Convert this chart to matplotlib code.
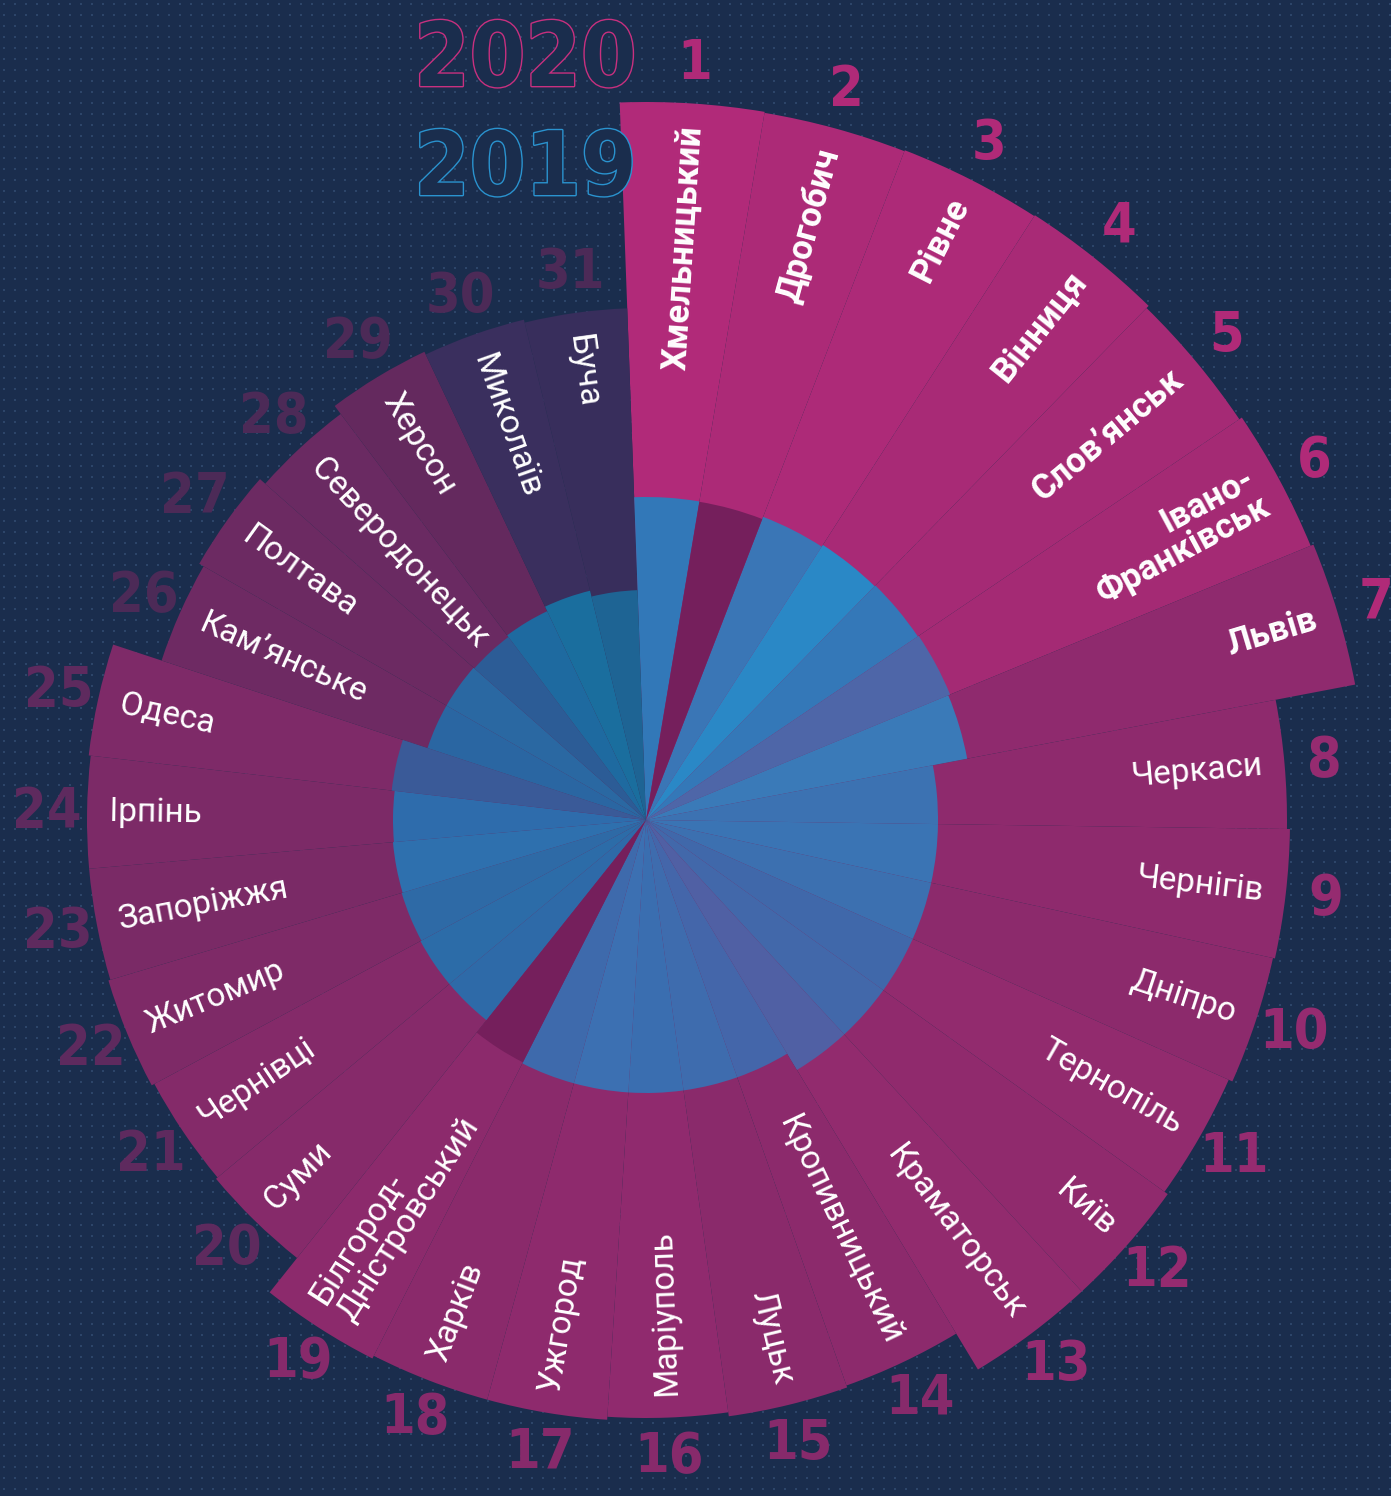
import numpy as np
import matplotlib
matplotlib.use("Agg")
import matplotlib.pyplot as plt
from matplotlib import patheffects as pe
from matplotlib import font_manager as fm

# ---------------- data ----------------
ranks = list(range(1, 32))
cities = ["Хмельницький", "Дрогобич", "Рівне", "Вінниця", "Слов’янськ", "Івано-\nФранківськ", "Львів",
          "Черкаси", "Чернігів", "Дніпро", "Тернопіль", "Київ", "Краматорськ",
          "Кропивницький", "Луцьк", "Маріуполь", "Ужгород", "Харків", "Білгород-\nДністровський",
          "Суми", "Чернівці", "Житомир", "Запоріжжя", "Ірпінь", "Одеса",
          "Кам’янське", "Полтава", "Северодонецьк", "Херсон", "Миколаїв", "Буча"]

# outer bars (2020), radial length in chart units
score_2020 = [718, 717, 718, 719, 716, 719, 722,
              641, 644, 642, 638, 642, 642,
              600, 602, 598, 601, 601, 604,
              560, 558, 561, 559, 559, 561,
              510, 515, 508, 518, 515, 512]
# inner bars (2019); None = city not in 2019 rating
score_2019 = [323, None, 325, 327, 328, 329, 327,
              292, 292, 292, 292, 292, 292,
              273, 273, 273, 273, 273, None,
              256, 256, 255, 254, 253, 256,
              230, 230, 229, 231, 236, 230]
year_labels = ["2020", "2019"]

# ---------------- style ----------------
W, H = 1391, 1496
CX, CY = 646, 820
BG = "#1a2d4d"
DOT = "#2d4569"
MAG = "#c8307f"
BLUE_Y = "#2a93cf"

col_2020 = ["#b12a79", "#ac2a77", "#ad2a78", "#a82a76", "#a52a75", "#a42a74", "#8f2a6e",
            "#8e2a6d", "#8e2a6d", "#8c2a6c", "#922b6e", "#902a6d", "#922b6e",
            "#8c2a6c", "#8a2a6b", "#902a6e", "#8e2a6d", "#8a2a6b", "#8c2a6c",
            "#862a6a", "#842a69", "#7e2a67", "#7a2a66", "#7c2a67", "#7e2a68",
            "#6e2a63", "#6c2a62", "#6a2a62", "#64295e", "#3a2f5e", "#382e5c"]
col_2019 = ["#3278b8", None, "#3a76b6", "#2a88c6", "#3478b8", "#4e66a8", "#3a7ab8",
            "#3c72b2", "#3a74b4", "#3c70b0", "#4068aa", "#4268aa", "#5060a4",
            "#4466aa", "#3e6cae", "#3a6eb0", "#3c70b2", "#3e6aac", None,
            "#2e6aa8", "#2c6ca8", "#2e6aa6", "#2e70ae", "#2e6cac", "#3a5a98",
            "#2a66a2", "#2a68a2", "#2c5c96", "#1e6aa0", "#1a6e9e", "#1e6494"]
num_col = (["#b02a78"] * 7 + ["#952b70"] * 6 + ["#872a6b"] * 6 +
           ["#5e2a5e"] * 6 + ["#4c2a57"] * 6)
SHADE = "#751f5c"
START = -2.1  # degrees, compass
N = len(cities)
step = 360.0 / N

LABEL = ["Roboto", "DejaVu Sans"]
NUM_FP = fm.FontProperties(family="DejaVu Sans", weight="bold", stretch="condensed", size=40)
YEAR_FP = fm.FontProperties(family="DejaVu Sans", weight="bold", stretch="condensed", size=64)

fig = plt.figure(figsize=(W / 100, H / 100), dpi=100, facecolor=BG)

# background dotted grid
bg = fig.add_axes([0, 0, 1, 1])
bg.set_xlim(0, W)
bg.set_ylim(H, 0)
bg.axis("off")
gx, gy = np.meshgrid(np.arange(4, W, 11), np.arange(4, H, 11))
bg.scatter(gx.ravel(), gy.ravel(), s=0.7, c=DOT, marker="s", linewidths=0)

# polar chart
S = 800
ax = fig.add_axes([(CX - S) / W, (H - CY - S) / H, 2 * S / W, 2 * S / H], projection="polar")
ax.set_theta_zero_location("N")
ax.set_theta_direction(-1)
ax.set_ylim(0, S)
ax.set_axis_off()

deg = START + (np.arange(N) + 0.5) * step
theta = np.deg2rad(deg)
width = np.deg2rad(step)

ax.bar(theta, score_2020, width=width, color=col_2020, linewidth=0, zorder=2)

valid = [i for i in range(N) if score_2019[i] is not None]
missing = [i for i in range(N) if score_2019[i] is None]
ax.bar(theta[valid], [score_2019[i] for i in valid], width=width,
       color=[col_2019[i] for i in valid], linewidth=0, zorder=3)
# darker core for cities without a 2019 value
ax.bar(theta[missing], [0.45 * score_2020[i] for i in missing], width=width,
       color=SHADE, linewidth=0, zorder=3)

PAD = 22
for i in range(N):
    d = deg[i]
    if i < 15:
        rot = 90 - d
        ha = "right"
    else:
        rot = 270 - d
        ha = "left"
    rot = (rot + 180) % 360 - 180
    top = i < 7
    ax.text(theta[i], score_2020[i] - PAD, cities[i], rotation=rot, rotation_mode="anchor",
            ha=ha, va="center", multialignment=ha, color="white",
            fontsize=25 if top else 24, family=LABEL,
            fontweight="bold" if top else "normal", linespacing=0.95, zorder=5)
    ax.text(theta[i], score_2020[i] + 40, str(ranks[i]), ha="center", va="center",
            fontproperties=NUM_FP, color=num_col[i], clip_on=False, zorder=5)

# year legend (outlined text)
for lab, col, yb in zip(year_labels, [MAG, BLUE_Y], [86, 195]):
    fig.text(414 / W, 1 - yb / H, lab, ha="left", va="baseline", fontproperties=YEAR_FP, color=BG,
             path_effects=[pe.Stroke(linewidth=2.0, foreground=col), pe.Normal()])

fig.savefig("out.png", dpi=100, facecolor=BG)
